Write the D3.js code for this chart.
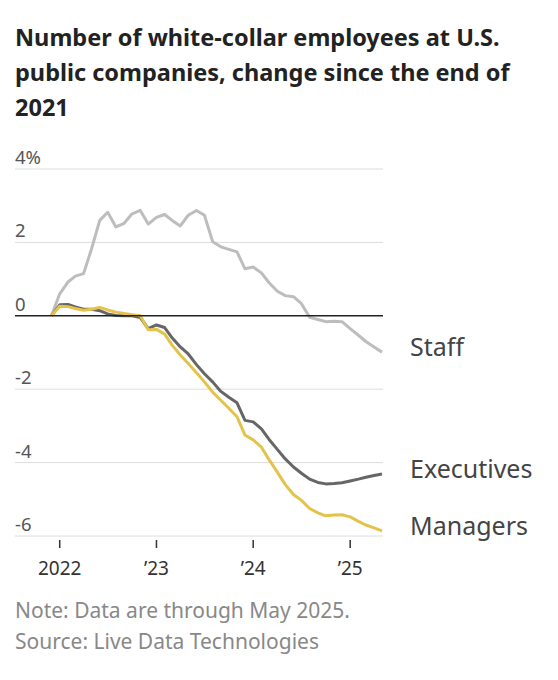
<!DOCTYPE html>
<html>
<head>
<meta charset="utf-8">
<script src="https://cdn.jsdelivr.net/npm/d3@7"></script>
<style>
  body { margin: 0; background: #fff; }
  svg text { font-family: "Noto Sans", "Open Sans", sans-serif; }
</style>
</head>
<body>
<script>
// monthly, Dec 2021 .. May 2025
const months = d3.timeMonth.range(new Date(2021, 11, 1), new Date(2025, 5, 1));

const staff = [
    0, 0.6, 0.92, 1.08, 1.15, 1.82, 2.6, 2.82, 2.42, 2.52, 2.78, 2.87,
    2.5, 2.68, 2.76, 2.6, 2.45, 2.74, 2.87, 2.74, 2.02, 1.88, 1.81, 1.74,
    1.28, 1.33, 1.17, 0.9, 0.67, 0.55, 0.52, 0.33, -0.04, -0.1, -0.16, -0.15,
    -0.16, -0.35, -0.53, -0.7, -0.85, -0.99
];
const executives = [
    0, 0.3, 0.31, 0.24, 0.18, 0.18, 0.14, 0.05, 0.01, 0, 0, -0.05,
    -0.35, -0.25, -0.32, -0.6, -0.85, -1.04, -1.33, -1.58, -1.8, -2.06, -2.22, -2.37,
    -2.85, -2.89, -3.08, -3.37, -3.64, -3.9, -4.12, -4.29, -4.45, -4.54, -4.58, -4.57,
    -4.55, -4.5, -4.45, -4.4, -4.35, -4.31
];
const managers = [
    0, 0.26, 0.25, 0.2, 0.15, 0.18, 0.23, 0.16, 0.1, 0.06, 0.03, 0,
    -0.38, -0.37, -0.5, -0.8, -1.07, -1.3, -1.55, -1.8, -2.08, -2.3, -2.52, -2.75,
    -3.25, -3.38, -3.58, -3.92, -4.26, -4.6, -4.87, -5.03, -5.25, -5.37, -5.45, -5.43,
    -5.42, -5.48, -5.6, -5.7, -5.78, -5.86
];

const seriesNames = ["Staff", "Executives", "Managers"];
const seriesColors = ["#bdbdbd", "#666666", "#e3c34a"];
const seriesValues = [staff, executives, managers];

const yTicks = [4, 2, 0, -2, -4, -6];
const xTicks = [new Date(2022, 0, 1), new Date(2023, 0, 1), new Date(2024, 0, 1), new Date(2025, 0, 1)];
const xTickLabels = ["2022", "\u201923", "\u201924", "\u201925"];

const titleLines = [
    "Number of white-collar employees at U.S.",
    "public companies, change since the end of",
    "2021"
];
const noteLines = [
    "Note: Data are through May 2025.",
    "Source: Live Data Technologies"
];

const W = 558, H = 680;
const svg = d3.select("body").append("svg")
    .attr("width", W)
    .attr("height", H);

// title
svg.append("g")
    .selectAll("text")
    .data(titleLines)
    .join("text")
    .attr("x", 15)
    .attr("y", (d, i) => 46 + i * 35)
    .attr("font-size", 23.5)
    .attr("font-weight", 700)
    .attr("fill", "#222")
    .text(d => d);

const x = d3.scaleTime()
    .domain([months[0], months[months.length - 1]])
    .range([51.5, 382]);
const y = d3.scaleLinear()
    .domain([-6, 4])
    .range([536, 169]);

const gridL = 15, gridR = 383;

// gridlines
svg.append("g")
    .selectAll("line")
    .data(yTicks.filter(d => d !== 0))
    .join("line")
    .attr("x1", gridL)
    .attr("x2", gridR)
    .attr("y1", d => y(d))
    .attr("y2", d => y(d))
    .attr("stroke", "#dcdcdc")
    .attr("stroke-width", 1);

// y labels
svg.append("g")
    .selectAll("text")
    .data(yTicks)
    .join("text")
    .attr("x", gridL)
    .attr("y", d => y(d) - 5)
    .attr("font-size", 18.5)
    .attr("fill", "#555")
    .text(d => d === 4 ? "4%" : d);

// x axis ticks
svg.append("g")
    .selectAll("line")
    .data(xTicks)
    .join("line")
    .attr("x1", d => x(d))
    .attr("x2", d => x(d))
    .attr("y1", 540)
    .attr("y2", 548)
    .attr("stroke", "#333")
    .attr("stroke-width", 1.5);
svg.append("g")
    .selectAll("text")
    .data(xTicks)
    .join("text")
    .attr("x", d => x(d))
    .attr("y", 575)
    .attr("text-anchor", "middle")
    .attr("font-size", 19)
    .attr("fill", "#333")
    .text((d, i) => xTickLabels[i]);

// lines
const line = d3.line()
    .x((d, i) => x(months[i]))
    .y(d => y(d));

svg.append("g")
    .selectAll("path")
    .data(seriesValues)
    .join("path")
    .attr("d", line)
    .attr("fill", "none")
    .attr("stroke", (d, i) => seriesColors[i])
    .attr("stroke-width", 3)
    .attr("stroke-linejoin", "round");

// zero line on top
svg.append("line")
    .attr("x1", gridL)
    .attr("x2", gridR)
    .attr("y1", y(0))
    .attr("y2", y(0))
    .attr("stroke", "#222")
    .attr("stroke-width", 1.5);

// end labels
svg.append("g")
    .selectAll("text")
    .data(seriesNames)
    .join("text")
    .attr("x", 410)
    .attr("y", (d, i) => y(seriesValues[i][seriesValues[i].length - 1]) + 4)
    .attr("font-size", 25)
    .attr("fill", "#444")
    .text(d => d);

// notes
svg.append("g")
    .selectAll("text")
    .data(noteLines)
    .join("text")
    .attr("x", 15)
    .attr("y", (d, i) => 618 + i * 31)
    .attr("font-size", 21)
    .attr("fill", "#888")
    .text(d => d);
</script>
</body>
</html>
